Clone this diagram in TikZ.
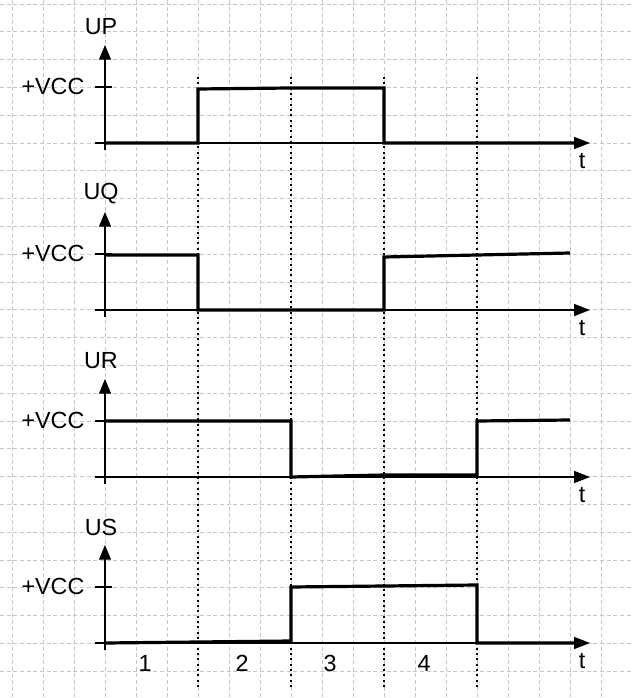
\documentclass[tikz,border=0pt]{standalone}
\usepackage{fontspec}
\setmainfont{Liberation Sans}
\usetikzlibrary{arrows.meta}
\begin{document}
\begin{tikzpicture}[x=0.75pt,y=-0.75pt,
  gridline/.style={gray!45,line width=0.5pt,dash pattern=on 3pt off 2pt},
  haxis/.style={line width=1.2pt,-{Triangle[length=12pt,width=9pt]}},
  vaxis/.style={line width=0.8pt,-{Triangle[length=11pt,width=9pt]}},
  signal/.style={line width=2.4pt,line join=miter},
  tickline/.style={line width=0.9pt},
  marker/.style={line width=1.8pt,dash pattern=on 1.6pt off 2.4pt},
  lbl/.style={font=\fontsize{17.5}{20}\selectfont,inner sep=0pt},
]
\useasboundingbox (0,0) rectangle (631,698);
\fill[white] (0,0) rectangle (631,698);
% grid
\foreach \k in {0,...,19}{
  \draw[gridline] ({12+31*\k},0) -- ({12+31*\k},698);
}
\foreach \k in {0,...,24}{
  \draw[gridline] (0,{4+27.8*\k}) -- (631,{4+27.8*\k});
}
% dotted interval markers
\foreach \x/\n in {198/a,291/b,384/c,477/d}{
  \coordinate (m\n top) at (\x,77);
  \coordinate (m\n bot) at (\x,690);
  \draw[marker] (m\n top) -- (m\n bot);
}
% axes for the four panels
\foreach \b/\nm/\lab in {143/P/UP,310/Q/UQ,477/R/UR,643/S/US}{
  \coordinate (o\nm) at (105,\b);
  \coordinate (ystart\nm) at (105,\b+7);
  \coordinate (ytip\nm) at (105,\b-98);
  \coordinate (xstart\nm) at (95,\b);
  \coordinate (xtip\nm) at (590,\b);
  \draw[vaxis] (ystart\nm) -- (ytip\nm);
  \draw[haxis] (xstart\nm) -- (xtip\nm);
  \node[lbl] (name\nm) at (101,\b-116) {\lab};
  \node[lbl] (vcc\nm) at (53,\b-57) {+VCC};
  \node[lbl] (t\nm) at (582,\b+18) {t};
  \coordinate (vl\nm) at (95,\b-56);
  \coordinate (vr\nm) at (112,\b-56);
  \draw[tickline] (vl\nm) -- (vr\nm);
}
% signals
\draw[signal] (105,143) -- (198,143) -- (198,89) -- (290,88) -- (384,88) -- (384,143) -- (575,143);
\draw[signal] (105,255) -- (198,255) -- (198,310) -- (384,310) -- (384,257) -- (477,255) -- (570,253);
\draw[signal] (105,421) -- (291,421) -- (291,477) -- (384,475) -- (477,475) -- (477,421) -- (570,420);
\draw[signal] (105,643) -- (291,641) -- (291,587) -- (384,586) -- (477,585) -- (477,643) -- (575,643);
% interval numbers
\node[lbl] (n1) at (145,663) {1};
\node[lbl] (n2) at (242,663) {2};
\node[lbl] (n3) at (330,663) {3};
\node[lbl] (n4) at (424,663) {4};
\end{tikzpicture}
\end{document}
